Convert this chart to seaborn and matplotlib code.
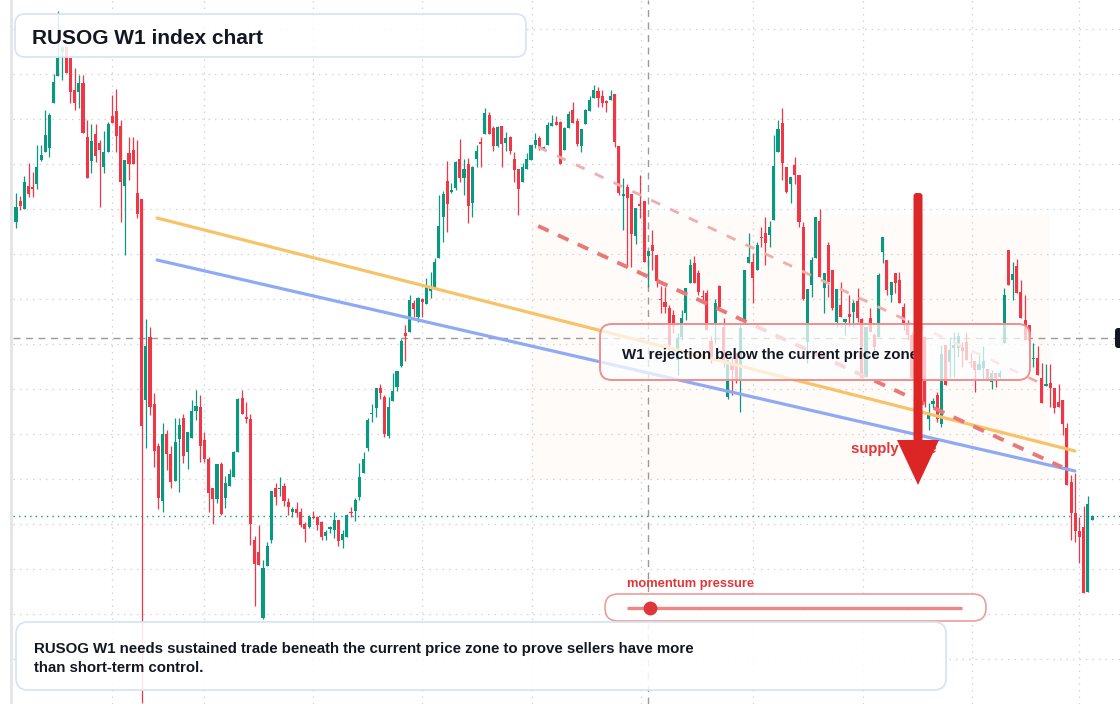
import numpy as np
import pandas as pd
import matplotlib
matplotlib.use('Agg')
from matplotlib import pyplot as plt
from matplotlib import patches, transforms
import seaborn as sns

# weekly candles of the RUSOG index (one entry per week)
opens = [
    482, 503, 495, 518, 517, 520, 544, 552, 556, 601,
    628, 652, 657, 646, 614, 612, 621, 567, 543, 570,
    561, 537, 552, 588, 593, 578, 518, 551, 554, 511,
    505, 304, 367, 300, 258, 203, 270, 250, 223, 265,
    286, 252, 266, 293, 297, 264, 245, 216, 205, 240,
    206, 218, 227, 252, 306, 287, 285, 164, 152, 86,
    138, 164, 216, 215, 218, 202, 192, 195, 192, 180,
    177, 187, 187, 182, 168, 175, 174, 184, 164, 167,
    192, 193, 207, 231, 256, 290, 296, 316, 307, 268,
    303, 317, 338, 371, 372, 401, 387, 405, 400, 413,
    416, 446, 487, 523, 512, 516, 545, 526, 540, 501,
    545, 562, 570, 589, 576, 558, 578, 561, 567, 545,
    535, 522, 535, 544, 559, 566, 554, 559, 578, 582,
    582, 554, 576, 594, 583, 558, 580, 593, 606, 613,
    608, 603, 604, 610, 558, 508, 517, 510, 468, 500,
    503, 448, 459, 449, 405, 402, 396, 389, 344, 367,
    391, 421, 441, 431, 408, 411, 363, 381, 418, 377,
    307, 339, 351, 324, 384, 441, 442, 434, 467, 471,
    469, 484, 552, 581, 537, 520, 539, 529, 477, 362,
    419, 446, 483, 416, 459, 434, 382, 399, 382, 390,
    392, 403, 385, 327, 386, 369, 367, 452, 444, 409,
    431, 424, 397, 381, 369, 326, 352, 367, 285, 300,
    309, 280, 359, 342, 356, 356, 357, 362, 342, 343,
    334, 336, 335, 322, 331, 327, 361, 454, 424, 438,
    412, 384, 379, 345, 346, 326, 318, 321, 316, 302,
    304, 276, 222, 191, 173, 177, 112, 184,
]
closes = [
    497, 498, 522, 510, 515, 537, 549, 569, 589, 622,
    646, 657, 631, 612, 601, 621, 571, 526, 563, 548,
    554, 552, 580, 581, 568, 522, 544, 540, 540, 490,
    278, 358, 297, 253, 206, 270, 250, 222, 262, 279,
    248, 272, 293, 298, 258, 245, 211, 205, 240, 190,
    221, 230, 252, 305, 290, 285, 180, 140, 139, 136,
    158, 213, 207, 216, 203, 197, 195, 191, 179, 175,
    187, 186, 179, 167, 172, 177, 184, 163, 170, 189,
    191, 204, 227, 245, 284, 291, 316, 311, 270, 297,
    313, 333, 363, 368, 404, 395, 406, 402, 419, 416,
    442, 478, 510, 500, 514, 542, 526, 535, 498, 537,
    553, 560, 591, 570, 558, 577, 560, 566, 553, 534,
    515, 537, 545, 559, 564, 557, 557, 579, 581, 579,
    540, 576, 590, 581, 560, 575, 594, 604, 614, 606,
    601, 601, 608, 562, 511, 510, 506, 470, 496, 498,
    442, 453, 453, 423, 404, 397, 359, 378, 366, 386,
    416, 439, 421, 412, 407, 374, 344, 401, 397, 341,
    344, 334, 324, 376, 434, 447, 426, 459, 466, 461,
    477, 538, 575, 541, 512, 527, 529, 482, 405, 415,
    444, 487, 427, 431, 422, 396, 415, 387, 385, 387,
    401, 386, 326, 377, 372, 357, 429, 467, 414, 422,
    421, 401, 381, 369, 326, 352, 366, 301, 290, 303,
    285, 350, 319, 354, 359, 368, 353, 344, 341, 334,
    340, 343, 325, 331, 326, 331, 409, 419, 430, 411,
    386, 364, 363, 346, 329, 301, 320, 316, 296, 297,
    280, 219, 191, 173, 167, 111, 200, 188,
]
highs = [
    511, 508, 528, 541, 532, 559, 559, 594, 591, 630,
    693, 659, 659, 646, 636, 629, 629, 584, 580, 580,
    564, 573, 582, 609, 615, 584, 544, 567, 567, 564,
    505, 385, 377, 311, 261, 281, 274, 258, 286, 286,
    290, 272, 304, 314, 309, 272, 247, 216, 240, 242,
    228, 235, 253, 306, 314, 302, 290, 168, 179, 144,
    162, 213, 221, 227, 221, 206, 197, 202, 196, 182,
    189, 193, 188, 183, 174, 178, 192, 184, 174, 190,
    197, 206, 241, 252, 286, 300, 316, 320, 309, 307,
    331, 333, 365, 379, 409, 404, 407, 406, 426, 432,
    446, 509, 513, 543, 521, 543, 565, 545, 546, 538,
    559, 567, 596, 592, 578, 578, 578, 572, 568, 552,
    535, 541, 551, 559, 571, 568, 558, 582, 589, 588,
    583, 577, 593, 602, 586, 575, 595, 608, 619, 617,
    614, 604, 614, 610, 558, 526, 520, 510, 496, 529,
    503, 453, 474, 449, 418, 417, 399, 394, 371, 394,
    416, 445, 448, 434, 414, 414, 368, 405, 419, 386,
    344, 347, 351, 381, 434, 471, 451, 462, 477, 487,
    483, 569, 584, 596, 537, 527, 547, 529, 482, 415,
    447, 487, 495, 431, 462, 434, 415, 422, 385, 409,
    404, 416, 386, 377, 396, 371, 431, 467, 444, 422,
    431, 432, 401, 384, 372, 356, 369, 367, 301, 306,
    312, 359, 359, 367, 372, 372, 362, 372, 351, 343,
    349, 358, 335, 334, 331, 334, 416, 454, 442, 445,
    424, 409, 379, 361, 358, 341, 340, 340, 316, 320,
    304, 281, 229, 231, 187, 198, 208, 189,
]
lows = [
    476, 494, 495, 507, 507, 515, 543, 552, 547, 601,
    628, 624, 631, 601, 594, 596, 571, 526, 531, 542,
    497, 531, 552, 581, 552, 482, 449, 524, 540, 486,
    1, 256, 289, 237, 195, 192, 234, 216, 223, 212,
    241, 235, 266, 284, 242, 242, 192, 180, 201, 189,
    196, 218, 227, 252, 290, 281, 159, 98, 139, 85,
    138, 161, 199, 208, 198, 189, 187, 187, 177, 162,
    176, 185, 174, 164, 164, 171, 166, 158, 156, 167,
    187, 183, 204, 231, 253, 282, 287, 305, 267, 266,
    303, 313, 337, 343, 372, 387, 382, 387, 400, 406,
    416, 446, 462, 472, 511, 514, 522, 509, 481, 487,
    537, 537, 570, 570, 553, 557, 537, 553, 550, 522,
    489, 522, 535, 544, 556, 554, 554, 559, 578, 579,
    540, 554, 576, 581, 558, 552, 580, 593, 606, 597,
    597, 592, 604, 557, 509, 474, 437, 437, 460, 486,
    442, 417, 434, 417, 391, 391, 354, 371, 329, 364,
    384, 421, 421, 409, 401, 374, 341, 361, 394, 337,
    305, 309, 321, 292, 384, 441, 401, 434, 457, 439,
    457, 484, 552, 524, 511, 501, 520, 477, 404, 341,
    407, 446, 427, 391, 407, 394, 377, 387, 369, 377,
    377, 382, 326, 327, 372, 352, 367, 441, 409, 402,
    411, 401, 374, 364, 324, 319, 344, 297, 274, 296,
    282, 277, 319, 326, 327, 347, 337, 344, 337, 312,
    334, 324, 324, 315, 317, 326, 361, 419, 404, 411,
    386, 364, 357, 337, 329, 301, 318, 297, 291, 297,
    269, 219, 164, 162, 141, 111, 112, 184,
]

# drawn trend lines: (start week, start level, end week, end level)
trend_orange = [33.7, 486, 252.9, 253]
trend_blue = [33.7, 444, 252.9, 233]
channel_upper = [124.7, 557, 244.6, 321]
channel_lower = [124.7, 478, 249.8, 237]
zone_weeks = [122.8, 246.9]
zone_levels = [224, 489]
cross_week, cross_level = 150.9, 366

grid_weeks = [22.9, 44.9, 70.9, 97.0, 123.2, 149.3, 176.0, 202.3, 228.3, 253.9]
grid_levels = list(range(45, 700, 45))

W, H = 1120, 704
STEP = 4.187  # pixels per week
BULL = '#089981'
BEAR = '#f23645'
INK = '#131722'
RED = '#e0363a'

sns.set_theme(style='whitegrid')
plt.rcParams['font.family'] = ['Liberation Sans', 'DejaVu Sans']

fig = plt.figure(figsize=(W / 100, H / 100), dpi=100)
fig.patch.set_facecolor('white')
ax = fig.add_axes([13 / W, 0, 1 - 13 / W, 1])
ax.set_xlim((13 - 16) / STEP, (W - 16) / STEP)
ax.set_ylim(0, H)
ax.set_facecolor('white')
ax.set_xticks(grid_weeks)
ax.set_yticks(grid_levels)
ax.grid(True, color='#d3d3d3', linestyle=(0, (1.2, 4)), linewidth=0.9)
ax.set_axisbelow(True)
ax.tick_params(length=0, labelbottom=False, labelleft=False)
for sp in ax.spines.values():
    sp.set_visible(False)

# pixel coordinates (origin top-left) for the overlay boxes
pxT = transforms.Affine2D().scale(1, -1).translate(0, H).scale(1 / W, 1 / H) + fig.transFigure

# faint zone behind the recent range
ax.add_patch(patches.Rectangle((zone_weeks[0], zone_levels[0]), zone_weeks[1] - zone_weeks[0],
                               zone_levels[1] - zone_levels[0], facecolor='#fefbf9',
                               edgecolor='none', zorder=0))

# candles
o = np.array(opens, float)
c = np.array(closes, float)
hi = np.array(highs, float)
lo = np.array(lows, float)
weeks = np.arange(len(o))
cols = np.where(c >= o, BULL, BEAR)
ax.vlines(weeks, lo, hi, colors=cols, linewidth=0.9, zorder=3)
ax.bar(weeks, np.maximum(np.abs(c - o), 1.5), bottom=np.minimum(o, c), width=0.74,
       color=cols, linewidth=0, zorder=3)

# current price and crosshair
ax.axhline(c[-1], color=BULL, linestyle=(0, (1, 3)), linewidth=1.0, zorder=2)
ax.axvline(cross_week, color='#9a9a9a', linestyle=(0, (5, 4)), linewidth=1.0, zorder=2)
ax.axhline(cross_level, xmax=(1115 - 13) / (W - 13), color='#9a9a9a',
           linestyle=(0, (5, 4)), linewidth=1.0, zorder=2)

# trend lines
trend = pd.DataFrame({
    'week': [trend_orange[0], trend_orange[2], trend_blue[0], trend_blue[2]],
    'level': [trend_orange[1], trend_orange[3], trend_blue[1], trend_blue[3]],
    'line': ['orange', 'orange', 'blue', 'blue'],
})
sns.lineplot(data=trend, x='week', y='level', hue='line', estimator=None, sort=False,
             palette={'orange': '#f8c268', 'blue': '#8eaaf5'}, linewidth=2.3,
             legend=False, ax=ax, zorder=4)
ax.plot(channel_upper[0::2], channel_upper[1::2], color='#f3acac', linewidth=2.0,
        linestyle=(0, (3.5, 4)), zorder=4)
ax.plot(channel_lower[0::2], channel_lower[1::2], color='#e97878', linewidth=2.8,
        linestyle=(0, (3, 2.6)), zorder=4)
ax.set_xlabel('')
ax.set_ylabel('')

# left scale strip and right crosshair tag
ax.add_patch(patches.Rectangle((10, 0), 3, H, transform=pxT, facecolor='#e6e6e6',
                               edgecolor='none', clip_on=False, zorder=9))
ax.add_patch(patches.FancyBboxPatch((1115, 328), 12, 20, boxstyle='round,pad=0,rounding_size=3',
                                    transform=pxT, facecolor=INK, edgecolor='none',
                                    clip_on=False, zorder=9))


def box(x, y, w, h, edge, face, r=12, lw=1.2, z=6):
    ax.add_patch(patches.FancyBboxPatch((x, y), w, h, boxstyle=f'round,pad=0,rounding_size={r}',
                                        transform=pxT, facecolor=face, edgecolor=edge,
                                        linewidth=lw, clip_on=False, zorder=z))


# title
box(15, 14, 511, 43, '#d5e3f5', (1, 1, 1, 0.86), r=10)
ax.text(32, 36, 'RUSOG W1 index chart', transform=pxT, fontsize=15, fontweight='bold',
        color=INK, ha='left', va='center_baseline', zorder=10)

# rejection note
box(600, 324, 430, 56, '#f08f8f', (1, 1, 1, 0.72), r=12, lw=1.4)
ax.text(622, 354, 'W1 rejection below the current price zone', transform=pxT, fontsize=10.8,
        fontweight='bold', color=INK, ha='left', va='center_baseline', zorder=10)

# supply arrow
ax.text(851, 448, 'supply zone', transform=pxT, fontsize=10.7, fontweight='bold',
        color=RED, ha='left', va='center_baseline', zorder=10)
ax.add_patch(patches.FancyBboxPatch((913.5, 193), 9, 252, boxstyle='round,pad=0,rounding_size=3',
                                    transform=pxT, facecolor='#dc2626', edgecolor='none',
                                    clip_on=False, zorder=11))
ax.add_patch(patches.Polygon([(897, 440), (939, 440), (918, 485)], closed=True, transform=pxT,
                             facecolor='#dc2626', edgecolor='none', clip_on=False, zorder=11))

# momentum gauge
ax.text(627, 582, 'momentum pressure', transform=pxT, fontsize=9.3, fontweight='bold',
        color=RED, ha='left', va='center_baseline', zorder=10)
box(605, 594, 381, 27, '#f09c9c', (1, 1, 1, 0.92), r=13, lw=1.2)
ax.plot([627, 962], [607.5, 607.5], transform=pxT, color='#ee8686', linewidth=2.4,
        solid_capstyle='butt', clip_on=False, zorder=10)
ax.plot([650], [607.5], 'o', transform=pxT, color=RED, markersize=10, markeredgewidth=0,
        clip_on=False, zorder=10)

# bottom note
box(16, 622, 930, 68, '#d5e3f5', (1, 1, 1, 0.88), r=12)
ax.text(34, 647, 'RUSOG W1 needs sustained trade beneath the current price zone to prove sellers have more',
        transform=pxT, fontsize=10.8, fontweight='bold', color=INK, ha='left',
        va='center_baseline', zorder=10)
ax.text(34, 667, 'than short-term control.', transform=pxT, fontsize=10.8, fontweight='bold',
        color=INK, ha='left', va='center_baseline', zorder=10)

fig.savefig('out.png', dpi=100, facecolor='white')
